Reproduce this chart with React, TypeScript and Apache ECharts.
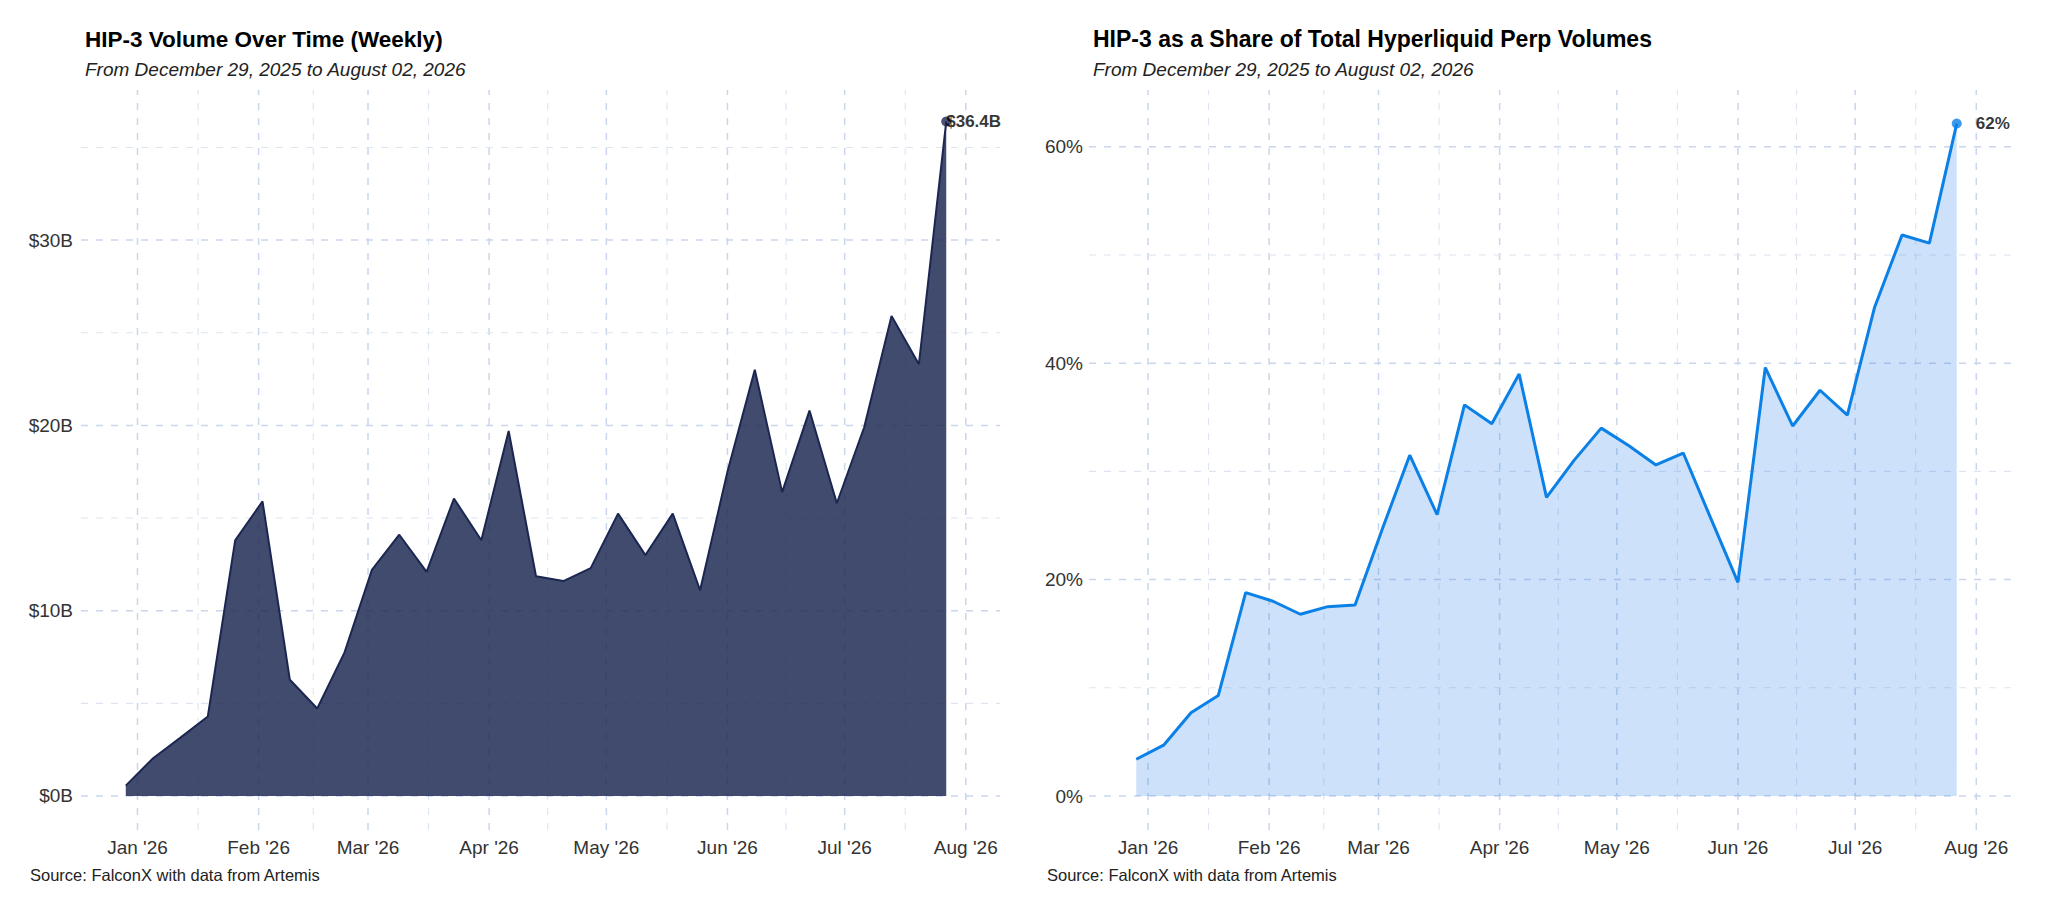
import React, { useEffect, useRef } from 'react'
import * as echarts from 'echarts'

// weekly buckets (week start, Monday)
const weeks = [
  '2025-12-29', '2026-01-05', '2026-01-12', '2026-01-19', '2026-01-26',
  '2026-02-02', '2026-02-09', '2026-02-16', '2026-02-23', '2026-03-02',
  '2026-03-09', '2026-03-16', '2026-03-23', '2026-03-30', '2026-04-06',
  '2026-04-13', '2026-04-20', '2026-04-27', '2026-05-04', '2026-05-11',
  '2026-05-18', '2026-05-25', '2026-06-01', '2026-06-08', '2026-06-15',
  '2026-06-22', '2026-06-29', '2026-07-06', '2026-07-13', '2026-07-20',
  '2026-07-27',
]

// HIP-3 weekly volume, $B
const volumeB = [
  0.56, 2.04, 3.15, 4.29, 13.8, 15.9, 6.27, 4.72, 7.75, 12.2,
  14.1, 12.1, 16.05, 13.8, 19.7, 11.86, 11.6, 12.3, 15.24, 13.0,
  15.24, 11.1, 17.5, 23.0, 16.4, 20.8, 15.8, 19.9, 25.9, 23.3,
  36.4,
]

// HIP-3 share of total Hyperliquid perp volume, %
const sharePct = [
  3.4, 4.7, 7.7, 9.3, 18.8, 18.0, 16.8, 17.5, 17.65, 24.7,
  31.5, 26.0, 36.15, 34.4, 39.0, 27.6, 31.0, 34.0, 32.4, 30.6,
  31.7, 25.7, 19.75, 39.6, 34.2, 37.5, 35.2, 45.2, 51.85, 51.1,
  62.15,
]

const monthTicks = [
  '2026-01-01', '2026-02-01', '2026-03-01', '2026-04-01',
  '2026-05-01', '2026-06-01', '2026-07-01', '2026-08-01',
]
const volTicks = [0, 10, 20, 30]
const volMinor = [5, 15, 25, 35]
const shareTicks = [0, 20, 40, 60]
const shareMinor = [10, 30, 50]

const MONTHS = ['Jan', 'Feb', 'Mar', 'Apr', 'May', 'Jun', 'Jul', 'Aug', 'Sep', 'Oct', 'Nov', 'Dec']
const DAY = 86400000
const FONT = '"Liberation Sans", Arial, Helvetica, sans-serif'
const NAVY = '#1b2651'
const BLUE = '#0b80e6'
const GRID_MAJOR = '#cad6eb'
const GRID_MINOR = '#dde5f2'

const ts = (s: string) => Date.parse(s + 'T00:00:00Z')
const jan1 = ts('2026-01-01')
const monthTs = monthTicks.map(ts)
const minorTs = monthTs.slice(1).map((t, i) => (t + monthTs[i]) / 2)

const fmtMonth = (v: number) => {
  const d = new Date(v)
  return `${MONTHS[d.getUTCMonth()]} '${String(d.getUTCFullYear()).slice(2)}`
}

const gridLines = (idx: number, xMin: number, hMajor: number[], hMinor: number[]) => {
  const vData = [...monthTs.map((t) => [t, 0, 1]), ...minorTs.map((t) => [t, 0, 0])]
  const hData = [...hMajor.map((v) => [xMin, v, 1]), ...hMinor.map((v) => [xMin, v, 0])]
  const style = (major: boolean) => ({
    stroke: major ? GRID_MAJOR : GRID_MINOR,
    lineWidth: major ? 1.5 : 1.1,
    lineDash: [7, 8],
  })
  return [
    {
      type: 'custom', xAxisIndex: idx, yAxisIndex: idx, z: 1, silent: true,
      data: vData,
      renderItem: (params: any, api: any) => {
        const cs = params.coordSys
        const p = api.coord([api.value(0), 0])
        return {
          type: 'line',
          shape: { x1: p[0], y1: cs.y + cs.height, x2: p[0], y2: cs.y },
          style: style(api.value(2) === 1),
        }
      },
    },
    {
      type: 'custom', xAxisIndex: idx, yAxisIndex: idx, z: 1, silent: true,
      data: hData,
      renderItem: (params: any, api: any) => {
        const cs = params.coordSys
        const p = api.coord([api.value(0), api.value(1)])
        return {
          type: 'line',
          shape: { x1: cs.x, y1: p[1], x2: cs.x + cs.width, y2: p[1] },
          style: style(api.value(2) === 1),
        }
      },
    },
  ]
}

const App = () => {
  const chart: any = useRef()

  useEffect(() => {
    document.body.style.margin = '0'
    const myChart = echarts.init(chart.current, null, { renderer: 'svg' })

    const last = weeks.length - 1
    const volData = weeks.map((w, i) => [ts(w), volumeB[i]])
    const shareData = weeks.map((w, i) => [ts(w), sharePct[i]])

    const xMin0 = jan1 - 14.46 * DAY
    const xMax0 = jan1 + 220.76 * DAY
    const xMin1 = jan1 - 15.1 * DAY
    const xMax1 = jan1 + 222.68 * DAY

    const axisText = { color: '#333', fontSize: 19, fontFamily: FONT }
    const xAxisBase = {
      type: 'value',
      axisLine: { show: false },
      axisTick: { show: false },
      splitLine: { show: false },
      axisLabel: { ...axisText, margin: 8, customValues: monthTs, formatter: fmtMonth },
    }
    const yAxisBase = {
      type: 'value',
      axisLine: { show: false },
      axisTick: { show: false },
      splitLine: { show: false },
    }

    const textEl = (x: number, y: number, text: string, size: number, extra: any = {}) => ({
      type: 'text', x, y,
      style: { text, fontSize: size, fontFamily: FONT, fill: '#222', verticalAlign: 'middle', align: 'left', ...extra },
    })

    myChart.setOption({
      animation: false,
      backgroundColor: '#fff',
      grid: [
        { left: 81, top: 90, width: 919, height: 740, outerBoundsMode: 'none' },
        { left: 1089, top: 90, width: 929, height: 740, outerBoundsMode: 'none' },
      ],
      xAxis: [
        { ...xAxisBase, gridIndex: 0, min: xMin0, max: xMax0 },
        { ...xAxisBase, gridIndex: 1, min: xMin1, max: xMax1 },
      ],
      yAxis: [
        {
          ...yAxisBase, gridIndex: 0, min: -1.835, max: 38.1,
          axisLabel: { ...axisText, margin: 8, customValues: volTicks, formatter: (v: number) => `$${v}B` },
        },
        {
          ...yAxisBase, gridIndex: 1, min: -3.14, max: 65.25,
          axisLabel: { ...axisText, margin: 6, customValues: shareTicks, formatter: (v: number) => `${v}%` },
        },
      ],
      graphic: [
        textEl(85, 39, 'HIP-3 Volume Over Time (Weekly)', 22.5, { fontWeight: 'bold', fill: '#000' }),
        textEl(85, 69, 'From December 29, 2025 to August 02, 2026', 19, { fontStyle: 'italic' }),
        textEl(30, 875, 'Source: FalconX with data from Artemis', 16.5),
        textEl(1093, 39, 'HIP-3 as a Share of Total Hyperliquid Perp Volumes', 23, { fontWeight: 'bold', fill: '#000' }),
        textEl(1093, 69, 'From December 29, 2025 to August 02, 2026', 19, { fontStyle: 'italic' }),
        textEl(1047, 875, 'Source: FalconX with data from Artemis', 16.5),
      ],
      series: [
        ...gridLines(0, xMin0, volTicks, volMinor),
        ...gridLines(1, xMin1, shareTicks, shareMinor),
        {
          type: 'line', xAxisIndex: 0, yAxisIndex: 0, z: 3,
          data: volData,
          symbol: 'none',
          lineStyle: { color: NAVY, width: 2 },
          areaStyle: { color: 'rgba(27,38,81,0.83)', opacity: 1, origin: 0 },
        },
        {
          type: 'scatter', xAxisIndex: 0, yAxisIndex: 0, z: 4,
          data: [volData[last]],
          symbolSize: 10,
          itemStyle: { color: NAVY },
          label: {
            show: true, position: 'right', distance: -5,
            formatter: `$${volumeB[last].toFixed(1)}B`,
            color: '#000', fontWeight: 'bold', fontSize: 17, fontFamily: FONT,
          },
        },
        {
          type: 'line', xAxisIndex: 1, yAxisIndex: 1, z: 3,
          data: shareData,
          symbol: 'none',
          lineStyle: { color: BLUE, width: 3 },
          areaStyle: { color: 'rgba(20,120,230,0.21)', opacity: 1, origin: 0 },
        },
        {
          type: 'scatter', xAxisIndex: 1, yAxisIndex: 1, z: 4,
          data: [shareData[last]],
          symbolSize: 10,
          itemStyle: { color: BLUE },
          label: {
            show: true, position: 'right', distance: 14,
            formatter: `${Math.round(sharePct[last])}%`,
            color: '#000', fontWeight: 'bold', fontSize: 17, fontFamily: FONT,
          },
        },
      ],
    })

    return () => {
      myChart.dispose()
    }
  }, [])

  return <div ref={chart} style={{ width: 2048, height: 913 }} />
}

export default App
